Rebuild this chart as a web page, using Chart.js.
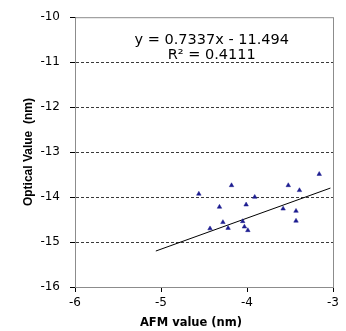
<!DOCTYPE html>
<html>
<head>
<meta charset="utf-8">
<script src="https://cdn.jsdelivr.net/npm/chart.js@4/dist/chart.umd.min.js"></script>
<style>
  html, body { margin: 0; padding: 0; background: #fff; }
  canvas { display: block; }
</style>
</head>
<body>
<canvas id="scatterChart" width="346" height="331"></canvas>
<script>
// values
const afmValues = [-4.56, -4.18, -4.32, -4.01, -3.91, -4.28, -4.43, -4.22, -4.05, -4.03, -3.99, -3.52, -3.58, -3.39, -3.43, -3.43, -3.16];
const opticalValues = [-13.93, -13.74, -14.22, -14.17, -14.00, -14.56, -14.70, -14.69, -14.54, -14.66, -14.74, -13.74, -14.26, -13.85, -14.31, -14.53, -13.49];
const trendX = [-5.06, -3.03];
const trendY = [-15.20, -13.80];
const xTicks = [-6, -5, -4, -3];
const yTicks = [-16, -15, -14, -13, -12, -11, -10];
const equationLines = ["y = 0.7337x - 11.494", "R² = 0.4111"];
const xTitle = "AFM value (nm)";

const points = afmValues.map((x, i) => ({ x: x, y: opticalValues[i] }));
const trend = trendX.map((x, i) => ({ x: x, y: trendY[i] }));

// grey frame round the plot, the equation text and the x title
const framePlugin = {
    id: "frame",
    beforeDatasetsDraw(chart) {
        const a = chart.chartArea;
        const ctx = chart.ctx;
        ctx.save();
        ctx.strokeStyle = "#8c8c8c";
        ctx.lineWidth = 1;
        ctx.strokeRect(a.left + 0.5, a.top + 0.5, a.right - a.left, a.bottom - a.top);
        ctx.restore();
    },
    afterDraw(chart) {
        const ctx = chart.ctx;
        const xs = chart.scales.x, ys = chart.scales.y;
        ctx.save();
        ctx.fillStyle = "#000";
        ctx.font = "14.5px 'DejaVu Sans'";
        ctx.textAlign = "center";
        ctx.textBaseline = "middle";
        ctx.fillText(equationLines[0], xs.getPixelForValue(-4.41), ys.getPixelForValue(-10.51));
        ctx.fillText(equationLines[1], xs.getPixelForValue(-4.41), ys.getPixelForValue(-10.84));
        // x title sits a little left of the plot centre in the original
        ctx.font = "bold 11.5px 'DejaVu Sans'";
        ctx.fillText(xTitle, xs.getPixelForValue(-4.5) - 13, xs.bottom - 8);
        ctx.restore();
    }
};

new Chart(document.getElementById("scatterChart"), {
    type: "scatter",
    data: {
        datasets: [{
            label: "Optical",
            data: points,
            pointStyle: "triangle",
            pointRadius: 2.6,
            pointBackgroundColor: "#1c1c90",
            pointBorderColor: "#1c1c90",
            pointBorderWidth: 0.5
        }, {
            label: "Trend",
            data: trend,
            showLine: true,
            pointRadius: 0,
            borderColor: "#000",
            borderWidth: 1
        }]
    },
    options: {
        responsive: false,
        animation: false,
        layout: { padding: { left: 0, right: 13, top: 15, bottom: 0 } },
        plugins: { legend: { display: false }, tooltip: { enabled: false } },
        scales: {
            x: {
                type: "linear",
                min: -6, max: -3,
                afterBuildTicks: s => { s.ticks = xTicks.map(v => ({ value: v })); },
                afterFit: s => { s.height = 44; },
                grid: { drawOnChartArea: false, tickLength: 5, color: "#000" },
                border: { color: "#000", width: 1 },
                ticks: { color: "#000", padding: 4, font: { family: "DejaVu Sans", size: 12 } }
            },
            y: {
                type: "linear",
                min: -16, max: -10,
                afterBuildTicks: s => { s.ticks = yTicks.map(v => ({ value: v })); },
                afterFit: s => { s.width = 75; },
                grid: {
                    tickLength: 5,
                    color: c => (c.tick && (c.tick.value === -10 || c.tick.value === -16)) ? "rgba(0,0,0,0)" : "#3a3a3a",
                    tickColor: "#000"
                },
                border: { color: "#000", width: 1, dash: [3, 2] },
                ticks: { color: "#000", padding: 10, font: { family: "DejaVu Sans", size: 12 } },
                title: {
                    display: true, text: "Optical Value  (nm)", color: "#000",
                    padding: { top: 21, bottom: 0 },
                    font: { family: "Liberation Sans", size: 12, weight: "bold" }
                }
            }
        }
    },
    plugins: [framePlugin]
});
</script>
</body>
</html>
